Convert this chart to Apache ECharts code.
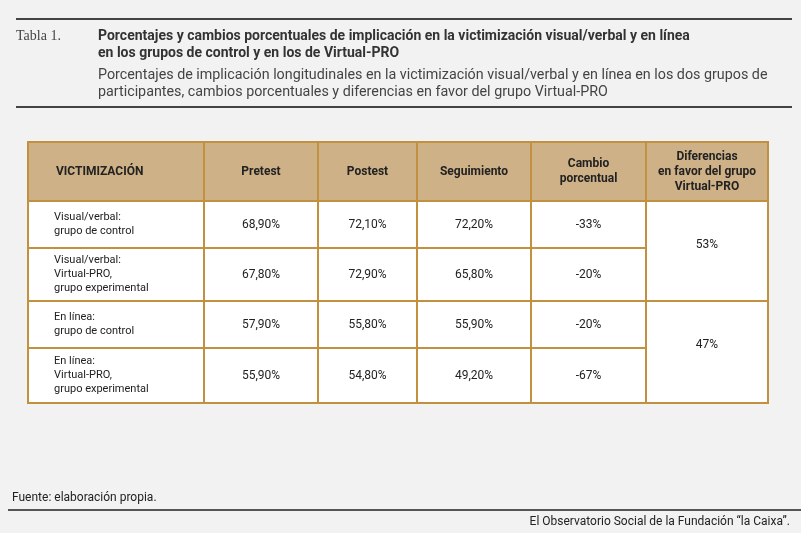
<!DOCTYPE html>
<html><head><meta charset="utf-8">
<script src="https://cdn.jsdelivr.net/npm/echarts@6/dist/echarts.min.js"></script>
<style>html,body{margin:0;background:#f2f2f2}#main{width:801px;height:533px}</style>
</head><body><div id="main"></div>
<script>
// data
var headers = ['VICTIMIZACIÓN', 'Pretest', 'Postest', 'Seguimiento', 'Cambio\nporcentual', 'Diferencias\nen favor del grupo\nVirtual-PRO'];
var groups = ['Visual/verbal:\ngrupo de control', 'Visual/verbal:\nVirtual-PRO,\ngrupo experimental', 'En línea:\ngrupo de control', 'En línea:\nVirtual-PRO,\ngrupo experimental'];
var pretest = ['68,90%', '67,80%', '57,90%', '55,90%'];
var postest = ['72,10%', '72,90%', '55,80%', '54,80%'];
var seguimiento = ['72,20%', '65,80%', '55,90%', '49,20%'];
var cambio = ['-33%', '-20%', '-20%', '-67%'];
var diferencias = ['53%', '47%'];

// layout (table units = px inside grid)
var colEdges = [0, 176, 290, 389, 503, 618, 740];
var rowEdges = [0, 59, 106, 159, 206, 261];

var cells = [];
headers.forEach(function (h, c) { cells.push([c, 0, h, 1, 1]); });
groups.forEach(function (g, i) {
  var r = i + 1;
  cells.push([0, r, g, 1, 0]);
  cells.push([1, r, pretest[i], 1, 0]);
  cells.push([2, r, postest[i], 1, 0]);
  cells.push([3, r, seguimiento[i], 1, 0]);
  cells.push([4, r, cambio[i], 1, 0]);
});
diferencias.forEach(function (d, i) { cells.push([5, 1 + i * 2, d, 2, 0]); });

var font = '"Liberation Sans Narrow", "Roboto", sans-serif';
var chart = echarts.init(document.getElementById('main'));
chart.setOption({
  backgroundColor: '#f2f2f2',
  animation: false,
  grid: { left: 28, right: 33, top: 142, bottom: 130 },
  xAxis: { type: 'value', min: 0, max: 740, show: false },
  yAxis: { type: 'value', min: 0, max: 261, inverse: true, show: false },
  graphic: [
    { type: 'line', shape: { x1: 16, y1: 19, x2: 792, y2: 19 }, style: { stroke: '#444', lineWidth: 2 } },
    { type: 'text', left: 16, top: 29, style: { text: 'Tabla 1.', font: '14px "Liberation Serif", serif', fill: '#444' } },
    { type: 'text', left: 98, top: 28, style: { text: 'Porcentajes y cambios porcentuales de implicación en la victimización visual/verbal y en línea\nen los grupos de control y en los de Virtual-PRO', font: 'bold 14px ' + font, fill: '#333', lineHeight: 17 } },
    { type: 'text', left: 98, top: 67, style: { text: 'Porcentajes de implicación longitudinales en la victimización visual/verbal y en línea en los dos grupos de\nparticipantes, cambios porcentuales y diferencias en favor del grupo Virtual-PRO', font: '14.3px ' + font, fill: '#444', lineHeight: 17 } },
    { type: 'line', shape: { x1: 16, y1: 107, x2: 792, y2: 107 }, style: { stroke: '#444', lineWidth: 2 } },
    { type: 'text', left: 12, top: 492, style: { text: 'Fuente: elaboración propia.', font: '12px ' + font, fill: '#222' } },
    { type: 'line', shape: { x1: 8, y1: 510, x2: 801, y2: 510 }, style: { stroke: '#555', lineWidth: 2 } },
    { type: 'text', right: 11, top: 516, style: { text: 'El Observatorio Social de la Fundación “la Caixa”.', font: '12px ' + font, fill: '#222' } }
  ],
  series: [{
    type: 'custom',
    data: cells,
    renderItem: function (params, api) {
      var c = api.value(0), r = api.value(1), span = api.value(3), head = api.value(4);
      var text = cells[params.dataIndex][2];
      var p0 = api.coord([colEdges[c], rowEdges[r]]);
      var p1 = api.coord([colEdges[c + 1], rowEdges[r + span]]);
      var w = p1[0] - p0[0], h = p1[1] - p0[1];
      var left = c === 0;
      var tx = left ? p0[0] + (head ? 28 : 26) : p0[0] + w / 2;
      var ty = (c === 5 && !head) ? p0[1] + 44 : p0[1] + h / 2;
      return {
        type: 'group',
        children: [
          { type: 'rect', shape: { x: p0[0], y: p0[1], width: w, height: h },
            style: { fill: head ? '#cfb187' : '#ffffff', stroke: '#c2913f', lineWidth: 2 } },
          { type: 'text', x: tx, y: ty,
            style: { text: text, align: left ? 'left' : 'center', verticalAlign: 'middle',
              font: (head ? 'bold 12px ' : (left ? '11px ' : '12px ')) + font, fill: '#222', lineHeight: head ? 15 : 14 } }
        ]
      };
    }
  }]
});
</script></body></html>
